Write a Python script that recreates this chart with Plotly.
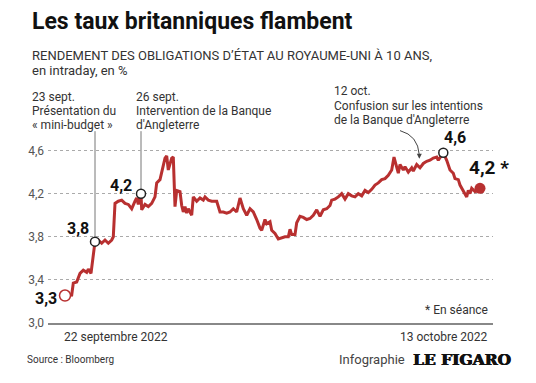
import plotly.graph_objects as go

# Intraday progress (arbitrary time steps from 22 sept. to 13 oct. 2022)
t = [
    0, 6.7, 8.3, 11.7, 15, 18.3, 21.7, 23.3, 26, 28.3,
    30, 33.3, 36.7, 40, 43.3, 46.7, 48.3, 50, 53.3, 56.7,
    60, 63.3, 66.7, 70, 71.7, 73.3, 76, 76.7, 80, 83.3,
    86.7, 90, 91.7, 95, 96.7, 100, 101.7, 103.3, 106.7, 108.3,
    110, 111.7, 115, 116.7, 118.3, 120, 121.7, 123.3, 126.7, 128.3,
    131.7, 135, 138.3, 140, 143.3, 146.7, 151.7, 155, 158.3, 161.7,
    165, 168.3, 171.7, 175, 178.3, 181.7, 185, 188.3, 191.7, 195,
    196.7, 200, 201.7, 205, 206.7, 210, 213.3, 216.7, 220, 223.3,
    225, 226.7, 230, 231.7, 235, 238.3, 241.7, 245, 248.3, 251.7,
    255, 258.3, 261.7, 265, 266.7, 270, 273.3, 276.7, 280, 283.3,
    286.7, 290, 293.3, 296.7, 300, 303.3, 306.7, 310, 313.3, 316.7,
    320, 323.3, 326.7, 329, 331.7, 333.3, 335, 338.3, 340, 343.3,
    346.7, 348.3, 351.7, 355, 358.3, 361.7, 365, 368.3, 371.7, 373.3,
    378.3, 381.7, 385, 388.3, 390, 393.3, 395, 396.7, 398.3, 400,
    401.7, 403.3, 405, 406.7, 410, 415,
]
rendement = [
    3.255, 3.26, 3.37, 3.38, 3.46, 3.49, 3.47, 3.50, 3.46, 3.62,
    3.755, 3.77, 3.74, 3.77, 3.74, 3.77, 3.80, 4.11, 4.13, 4.14,
    4.11, 4.10, 4.06, 4.13, 4.16, 4.10, 4.20, 4.05, 4.10, 4.08,
    4.11, 4.17, 4.30, 4.33, 4.39, 4.53, 4.55, 4.42, 4.53, 4.54,
    4.08, 4.23, 4.22, 4.09, 4.03, 4.08, 4.02, 4.06, 4.00, 4.17,
    4.13, 4.16, 4.14, 4.17, 4.14, 4.13, 4.13, 4.03, 4.03, 4.02,
    4.03, 4.06, 4.03, 4.16, 4.06, 4.00, 4.06, 4.03, 3.96, 3.88,
    3.86, 3.96, 3.92, 3.94, 3.86, 3.83, 3.78, 3.79, 3.80, 3.80,
    3.87, 3.82, 3.82, 3.93, 3.99, 3.98, 3.96, 3.97, 4.00, 4.05,
    3.99, 4.05, 4.06, 4.09, 4.14, 4.15, 4.17, 4.20, 4.15, 4.20,
    4.18, 4.17, 4.20, 4.18, 4.23, 4.21, 4.24, 4.28, 4.30, 4.33,
    4.34, 4.37, 4.42, 4.54, 4.44, 4.39, 4.47, 4.42, 4.45, 4.40,
    4.44, 4.41, 4.47, 4.44, 4.48, 4.50, 4.51, 4.53, 4.54, 4.51,
    4.58, 4.51, 4.42, 4.39, 4.34, 4.33, 4.28, 4.25, 4.23, 4.19,
    4.17, 4.23, 4.20, 4.25, 4.22, 4.25,
]

# Highlighted points (indices into the series) and their labels
i_start, i_budget, i_boe, i_max, i_end = 0, 10, 26, 130, len(t) - 1
value_labels = ["3,3", "3,8", "4,2", "4,6", "4,2 *"]

y_ticks = [3.0, 3.4, 3.8, 4.2, 4.6]
y_ticktext = ["3,0", "3,4", "3,8", "4,2", "4,6"]
x_labels = ["22 septembre 2022", "13 octobre 2022"]

RED = "#b83030"
FONT = "Roboto"
W, H = 536, 383
L, R, T, B = 48, 43, 129, 60


def px(x):
    return (x - L) / (W - L - R)


def py(y):
    return (H - B - y) / (H - T - B)


fig = go.Figure()
fig.add_trace(go.Scatter(x=t, y=rendement, mode="lines",
                         line=dict(color=RED, width=3), hoverinfo="skip"))

# Markers
fig.add_trace(go.Scatter(x=[t[i_start]], y=[rendement[i_start]], mode="markers",
                         marker=dict(size=11, color="white", line=dict(color=RED, width=1.5))))
fig.add_trace(go.Scatter(x=[t[i_budget], t[i_boe], t[i_max]],
                         y=[rendement[i_budget], rendement[i_boe], rendement[i_max]],
                         mode="markers",
                         marker=dict(size=9, color="white", line=dict(color="#222", width=1.5))))
fig.add_trace(go.Scatter(x=[t[i_end]], y=[rendement[i_end]], mode="markers",
                         marker=dict(size=11, color=RED, line=dict(color=RED, width=0))))

# vertical event lines
for i in (i_budget, i_boe):
    fig.add_shape(type="line", xref="x", yref="y", x0=t[i], x1=t[i],
                  y0=rendement[i] + 0.04, y1=4.78, line=dict(color="#777", width=1), layer="below")

# curved arrow for 12 oct.
fig.add_shape(type="path", xref="x", yref="y",
              path="M 335,4.785 Q 353,4.74 354.3,4.56",
              line=dict(color="#444", width=1))
fig.add_annotation(x=354.3, y=4.525, xref="x", yref="y", text="", showarrow=True,
                   ax=0, ay=-6, arrowhead=2, arrowsize=1, arrowwidth=1, arrowcolor="#444")

# Value labels
bold = dict(family=FONT, size=16, color="#111")
fig.add_annotation(x=t[i_start], y=rendement[i_start], text="<b>" + value_labels[0] + "</b>",
                   xanchor="right", yanchor="middle", xshift=-6, yshift=-3, showarrow=False, font=bold)
fig.add_annotation(x=t[i_budget], y=rendement[i_budget], text="<b>" + value_labels[1] + "</b>",
                   xanchor="right", yanchor="middle", xshift=-4, yshift=13, showarrow=False, font=bold)
fig.add_annotation(x=t[i_boe], y=rendement[i_boe], text="<b>" + value_labels[2] + "</b>",
                   xanchor="right", yanchor="middle", xshift=-7, yshift=8, showarrow=False, font=bold)
fig.add_annotation(x=t[i_max], y=rendement[i_max], text="<b>" + value_labels[3] + "</b>",
                   xanchor="left", yanchor="middle", xshift=-1, yshift=15, showarrow=False, font=bold)
fig.add_annotation(x=t[i_end], y=rendement[i_end], text="<b>" + value_labels[4] + "</b>",
                   xanchor="left", yanchor="middle", xshift=-13, yshift=21, showarrow=False,
                   font=dict(family=FONT, size=19, color="#111"))


def txt(x, y, s, size=12, color="#333", anchor="left", family=FONT, weight="normal", shadow="none"):
    fig.add_annotation(x=px(x), y=py(y), xref="paper", yref="paper", text=s,
                       xanchor=anchor, yanchor="middle", showarrow=False,
                       font=dict(family=family, size=size, color=color, weight=weight,
                                 shadow=shadow))


txt(30, 22, "Les taux britanniques flambent", size=23, color="#111", weight="bold")
txt(30, 55, "RENDEMENT DES OBLIGATIONS D’ÉTAT AU ROYAUME-UNI À 10 ANS,", size=13)
txt(30, 70, "en intraday, en %", size=13)

txt(30, 97, "23 sept.")
txt(30, 111, "Présentation du")
txt(30, 125, "« mini-budget »")
txt(134, 97, "26 sept.")
txt(134, 111, "Intervention de la Banque")
txt(134, 125, "d'Angleterre")
txt(332, 91, "12 oct.")
txt(332, 106, "Confusion sur les intentions")
txt(332, 120, "de la Banque d'Angleterre")

txt(490, 310, "* En séance", anchor="right")
txt(62, 337, x_labels[0])
txt(490, 337, x_labels[1], anchor="right")
txt(25, 359, "Source : Bloomberg", size=10)
txt(407, 359, "Infographie", size=13, color="#444", anchor="right")
txt(411, 359, "LE FIGARO", size=15.5, color="#111", family="DejaVu Serif, Liberation Serif, serif",
    weight="bold", shadow="0.6px 0 0 #111, -0.3px 0 0 #111")

fig.update_layout(
    width=W, height=H, margin=dict(l=L, r=R, t=T, b=B),
    paper_bgcolor="white", plot_bgcolor="white", showlegend=False,
    xaxis=dict(range=[-17, 428], showgrid=False, zeroline=False, showticklabels=False,
               showline=True, linecolor="#888", linewidth=1.5, ticks=""),
    yaxis=dict(range=[3.0, 4.8], tickvals=y_ticks, ticktext=y_ticktext,
               showgrid=True, gridcolor="#aaa", griddash="dot", gridwidth=1,
               zeroline=False, ticks="", ticklabelstandoff=3,
               tickfont=dict(family=FONT, size=12, color="#555")),
)

fig.write_html("out.html", config={"displayModeBar": False},
               post_script="document.body.style.margin='0';document.body.style.overflow='hidden';")
